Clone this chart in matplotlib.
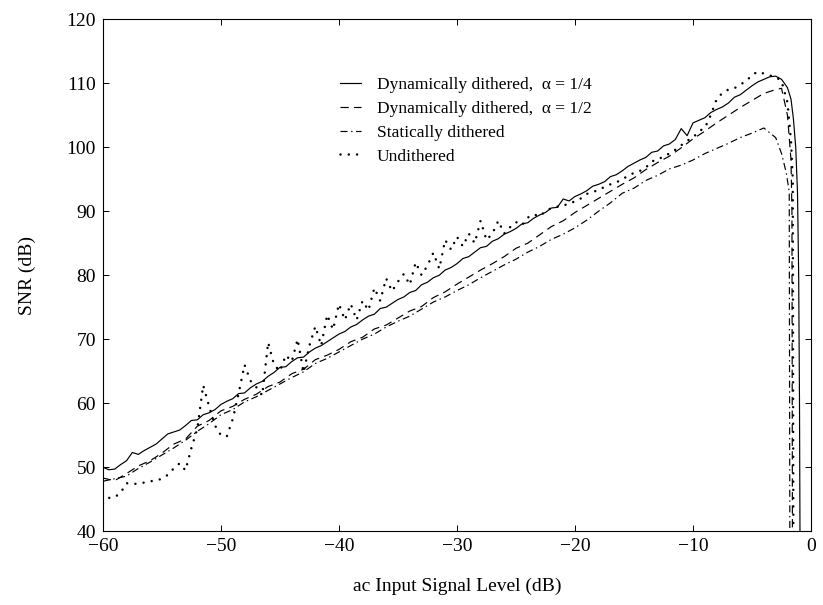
import numpy as np
import matplotlib.pyplot as plt

# SNR vs ac input level for dithered / undithered converters
# values (dB)

# Dynamically dithered, alpha = 1/4 (0.5 dB grid, then the roll-off)
x_dyn4 = [-60.0, -59.5, -59.0, -58.5, -58.0, -57.5, -57.0, -56.5, -56.0, -55.5,
          -55.0, -54.5, -54.0, -53.5, -53.0, -52.5, -52.0, -51.5, -51.0, -50.5,
          -50.0, -49.5, -49.0, -48.5, -48.0, -47.5, -47.0, -46.5, -46.0, -45.5,
          -45.0, -44.5, -44.0, -43.5, -43.0, -42.5, -42.0, -41.5, -41.0, -40.5,
          -40.0, -39.5, -39.0, -38.5, -38.0, -37.5, -37.0, -36.5, -36.0, -35.5,
          -35.0, -34.5, -34.0, -33.5, -33.0, -32.5, -32.0, -31.5, -31.0, -30.5,
          -30.0, -29.5, -29.0, -28.5, -28.0, -27.5, -27.0, -26.5, -26.0, -25.5,
          -25.0, -24.5, -24.0, -23.5, -23.0, -22.5, -22.0, -21.5, -21.0, -20.5,
          -20.0, -19.5, -19.0, -18.5, -18.0, -17.5, -17.0, -16.5, -16.0, -15.5,
          -15.0, -14.5, -14.0, -13.5, -13.0, -12.5, -12.0, -11.5, -11.0, -10.5,
          -10.0, -9.5, -9.0, -8.5, -8.0, -7.5, -7.0, -6.5, -6.0, -5.5,
          -5.0, -4.5, -4.0, -3.5,
          -3.0, -2.5, -2.0, -1.7, -1.5, -1.3, -1.15, -1.05, -0.98, -0.94]
snr_dyn4 = [50.0, 49.6, 49.7, 50.4, 51.0, 52.3, 52.0, 52.6, 53.1, 53.6,
            54.4, 55.2, 55.5, 55.8, 56.5, 57.3, 57.4, 58.2, 58.5, 59.0,
            59.8, 60.3, 60.7, 61.5, 61.6, 62.4, 63.0, 63.4, 64.2, 64.8,
            65.6, 65.7, 66.5, 67.1, 67.2, 68.0, 68.6, 69.0, 69.6, 70.2,
            70.8, 71.2, 71.9, 72.3, 73.0, 73.6, 73.9, 74.8, 75.0, 75.6,
            76.2, 76.6, 77.3, 77.6, 78.5, 78.9, 79.6, 80.0, 80.8, 81.2,
            81.8, 82.6, 82.9, 83.6, 84.3, 84.5, 85.3, 85.7, 86.4, 86.8,
            87.3, 88.0, 88.2, 88.9, 89.4, 89.8, 90.5, 90.6, 91.9, 91.6,
            92.3, 92.7, 93.2, 93.9, 94.2, 94.6, 95.4, 95.7, 96.3, 97.0,
            97.5, 98.0, 98.4, 99.2, 99.4, 100.2, 100.5, 101.2, 102.9, 101.8,
            103.8, 104.2, 104.6, 105.4, 105.9, 106.3, 106.9, 107.8, 108.2, 108.9,
            109.6, 110.2, 110.6, 111.0,
            111.1, 110.6, 109.3, 107.5, 104.5, 100.0, 93.0, 80.0, 60.0, 40.0]

# Dynamically dithered, alpha = 1/2 (1 dB grid)
x_dyn2 = [-60, -59, -58, -57, -56, -55, -54, -53, -52, -51,
          -50, -49, -48, -47, -46, -45, -44, -43, -42, -41,
          -40, -39, -38, -37, -36, -35, -34, -33, -32, -31,
          -30, -29, -28, -27, -26, -25, -24, -23, -22, -21,
          -20, -19, -18, -17, -16, -15, -14, -13, -12, -11,
          -10, -9, -8, -7, -6, -5, -4, -3, -2.5, -2.0, -1.7, -1.62, -1.58]
snr_dyn2 = [48.3, 47.9, 49.0, 50.2, 51.0, 52.2, 53.6, 54.4, 56.4, 57.3,
            58.8, 59.5, 60.6, 61.4, 62.6, 63.3, 64.6, 65.3, 66.8, 67.5,
            68.4, 69.6, 70.3, 71.6, 72.2, 73.3, 74.4, 75.1, 76.5, 77.4,
            78.6, 79.7, 80.8, 81.8, 82.9, 84.2, 85.0, 86.3, 87.6, 88.5,
            89.8, 90.9, 92.0, 93.1, 94.2, 95.2, 96.5, 97.6, 98.6, 99.9,
            101.3, 102.5, 103.8, 105.0, 106.2, 107.3, 108.4, 109.0, 109.2, 105.0, 98.0, 90.0, 40.0]

# Statically dithered (1 dB grid)
x_stat = [-60, -59, -58, -57, -56, -55, -54, -53, -52, -51,
          -50, -49, -48, -47, -46, -45, -44, -43, -42, -41,
          -40, -39, -38, -37, -36, -35, -34, -33, -32, -31,
          -30, -29, -28, -27, -26, -25, -24, -23, -22, -21,
          -20, -19, -18, -17, -16, -15, -14, -13, -12, -11,
          -10, -9, -8, -7, -6, -5, -4, -3, -2.5, -2.1, -1.85, -1.8]
snr_stat = [47.8, 48.2, 48.6, 49.8, 50.8, 51.9, 53.0, 54.2, 55.6, 56.8,
            58.2, 59.0, 60.2, 61.0, 62.0, 63.0, 64.0, 64.9, 66.2, 67.0,
            68.0, 69.0, 70.0, 70.8, 71.9, 72.8, 73.6, 74.7, 75.8, 76.6,
            77.6, 78.5, 79.6, 80.6, 81.6, 82.5, 83.6, 84.5, 85.6, 86.4,
            87.4, 88.6, 90.0, 91.3, 92.8, 93.6, 94.8, 95.6, 96.6, 97.2,
            98.0, 99.0, 99.8, 100.6, 101.5, 102.2, 103.0, 101.5, 99.0, 96.0, 93.0, 40.0]

# Undithered (0.5 dB grid)
x_und = [-60.0, -59.5, -59.0, -58.5, -58.0, -57.5, -57.0, -56.5, -56.0, -55.5,
         -55.0, -54.5, -54.0, -53.5, -53.0, -52.5, -52.0, -51.5, -51.0, -50.5,
         -50.0, -49.5, -49.0, -48.5, -48.0, -47.5, -47.0, -46.5, -46.0, -45.5,
         -45.0, -44.5, -44.0, -43.5, -43.0, -42.5, -42.0, -41.5, -41.0, -40.5,
         -40.0, -39.5, -39.0, -38.5, -38.0, -37.5, -37.0, -36.5, -36.0, -35.5,
         -35.0, -34.5, -34.0, -33.5, -33.0, -32.5, -32.0, -31.5, -31.0, -30.5,
         -30.0, -29.5, -29.0, -28.5, -28.0, -27.5, -27.0, -26.5, -26.0, -25.5,
         -25.0, -24.5, -24.0, -23.5, -23.0, -22.5, -22.0, -21.5, -21.0, -20.5,
         -20.0, -19.5, -19.0, -18.5, -18.0, -17.5, -17.0, -16.5, -16.0, -15.5,
         -15.0, -14.5, -14.0, -13.5, -13.0, -12.5, -12.0, -11.5, -11.0, -10.5,
         -10.0, -9.5, -9.0, -8.5, -8.0, -7.5, -7.0, -6.5, -6.0, -5.5,
         -5.0, -4.5, -4.0, -3.5, -3.0, -2.5, -2.0, -1.7, -1.55, -1.5]
snr_und = [44.4, 45.2, 45.3, 46.0, 47.5, 47.4, 47.4, 47.6, 47.8, 47.9,
           48.2, 48.8, 49.8, 50.6, 49.5, 53.0, 56.0, 62.8, 59.5, 56.5,
           55.0, 54.8, 57.5, 61.5, 66.0, 63.5, 62.5, 61.2, 69.5, 66.0,
           65.0, 67.5, 66.5, 70.0, 64.8, 69.0, 72.0, 69.0, 73.8, 71.5,
           75.5, 73.0, 75.5, 73.0, 76.0, 74.5, 78.0, 76.0, 79.5, 77.5,
           79.0, 80.2, 78.5, 82.0, 80.0, 81.5, 83.5, 81.0, 85.5, 84.0,
           86.0, 84.5, 86.5, 85.0, 88.5, 85.5, 86.5, 88.5, 86.5, 87.5,
           88.3, 87.8, 89.0, 89.5, 89.2, 90.0, 90.5, 90.7, 90.8, 91.3,
           91.5, 92.0, 92.7, 93.0, 93.3, 93.8, 94.2, 94.5, 95.0, 95.5,
           96.0, 96.3, 96.8, 97.8, 98.0, 98.6, 99.0, 99.6, 100.3, 101.0,
           101.5, 102.5, 103.0, 105.0, 107.5, 108.5, 109.0, 109.2, 109.8, 110.3,
           111.3, 111.8, 111.5, 111.2, 111.0, 110.3, 107.0, 101.0, 95.0, 40.0]

labels = ["Dynamically dithered,  \u03b1 = 1/4",
          "Dynamically dithered,  \u03b1 = 1/2",
          "Statically dithered",
          "Undithered"]

plt.rcParams['font.family'] = ['Liberation Serif', 'DejaVu Serif']

fig = plt.figure(figsize=(8.23, 6.05), dpi=100)
ax = fig.add_axes([0.125, 0.122, 0.8605, 0.8463])

ax.plot(x_dyn4, snr_dyn4, color="black", lw=0.85, label=labels[0])
ax.plot(x_dyn2, snr_dyn2, color="black", lw=0.85, linestyle=(0, (7, 4.5)), label=labels[1])
ax.plot(x_stat, snr_stat, color="black", lw=0.85, linestyle=(0, (6, 3, 1.2, 3)), label=labels[2])
ax.plot(x_und, snr_und, color="black", lw=1.8, linestyle=(0, (0.01, 3.3)),
        dash_capstyle="round", label=labels[3])

ax.set_xlim(-60, 0)
ax.set_ylim(40, 120)
ax.set_xticks(np.arange(-60, 1, 10))
ax.set_yticks(np.arange(40, 121, 10))
ax.tick_params(direction="in", length=4, width=0.7, labelsize=14,
               top=True, right=True, pad=5)
for sp in ax.spines.values():
    sp.set_linewidth(0.8)

ax.set_xlabel("ac Input Signal Level (dB)", fontsize=14, labelpad=16)
ax.set_ylabel("SNR (dB)", fontsize=14, labelpad=22)

ax.legend(loc="upper left", bbox_to_anchor=(0.335, 0.888), frameon=False,
          fontsize=12.5, handlelength=1.2, handletextpad=0.9,
          labelspacing=0.45, borderpad=0, borderaxespad=0)

fig.savefig("out.png", dpi=100)
plt.close()
